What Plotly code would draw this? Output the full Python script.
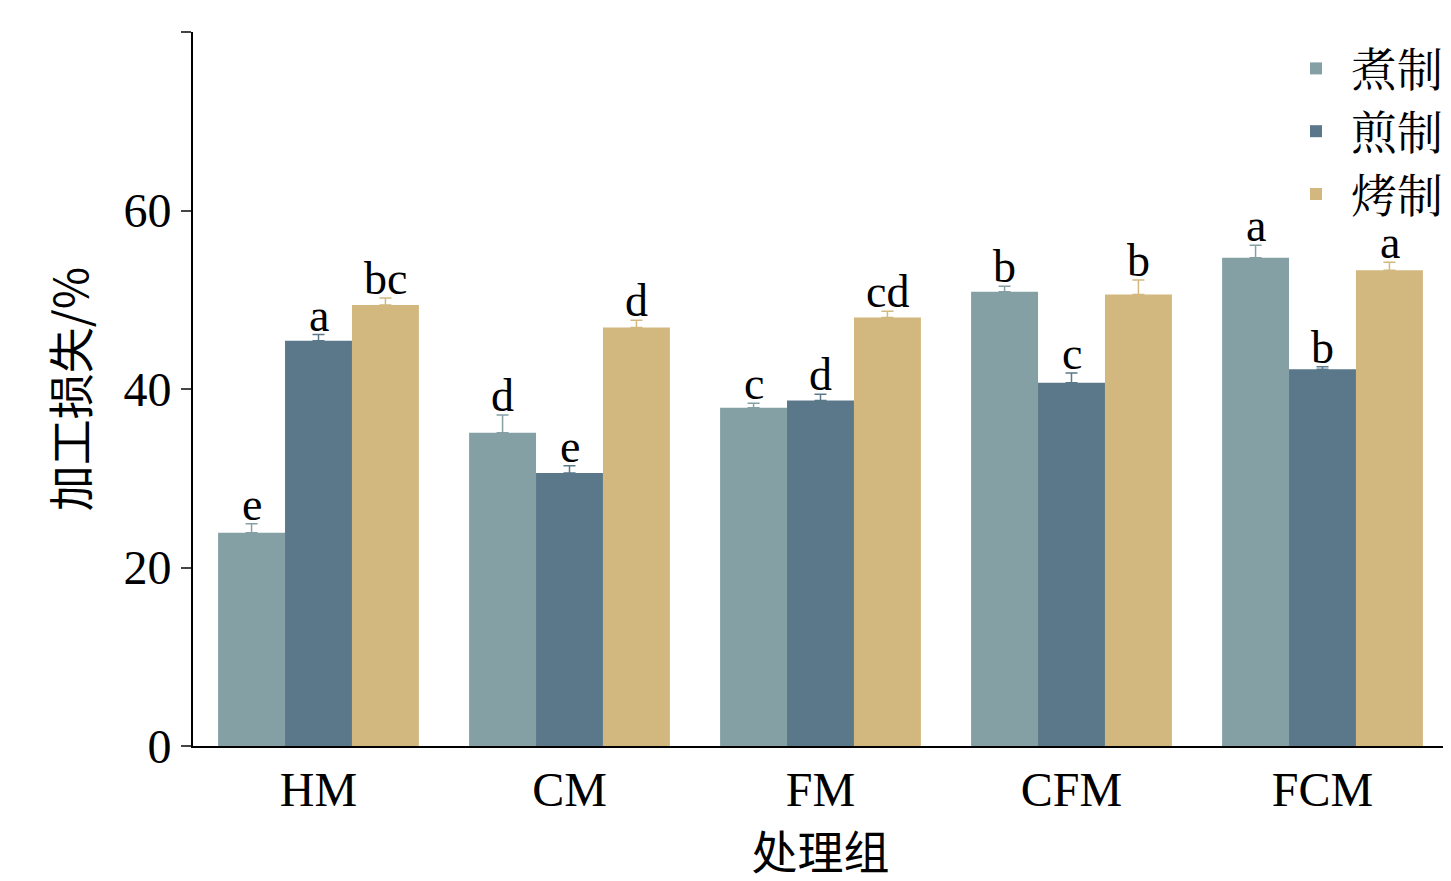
import plotly.graph_objects as go

groups = ["HM", "CM", "FM", "CFM", "FCM"]
names = ["煮制", "煎制", "烤制"]
colors = ["#84a0a5", "#5a7889", "#d2b87f"]

boil = [23.9, 35.1, 37.9, 50.9, 54.7]
boil_err = [1.0, 2.0, 0.5, 0.6, 1.4]
fry = [45.4, 30.6, 38.7, 40.7, 42.2]
fry_err = [0.7, 0.8, 0.7, 1.1, 0.3]
roast = [49.4, 46.9, 48.0, 50.6, 53.3]
roast_err = [0.8, 0.8, 0.7, 1.6, 0.9]

boil_lbl = ["e", "d", "c", "b", "a"]
fry_lbl = ["a", "e", "d", "c", "b"]
roast_lbl = ["bc", "d", "cd", "b", "a"]

serif = "Liberation Serif, Noto Serif CJK SC, Noto Sans CJK SC"

fig = go.Figure()
series = [(boil, boil_err, boil_lbl), (fry, fry_err, fry_lbl), (roast, roast_err, roast_lbl)]
for i, (vals, errs, lbls) in enumerate(series):
    fig.add_trace(go.Bar(
        x=groups, y=vals, name=names[i], marker_color=colors[i], marker_line_width=0,
        error_y=dict(type="data", array=errs, arrayminus=[0] * len(errs), symmetric=False,
                     color=colors[i], thickness=1.5, width=6),
    ))
    for g, v, e, t in zip(groups, vals, errs, lbls):
        fig.add_annotation(x=g, y=v + e, text=t, showarrow=False, yanchor="bottom",
                           xshift=(i - 1) * 67, yshift=-8,
                           font=dict(size=46, family=serif, color="black"))

fig.update_layout(
    width=1451, height=881, barmode="group", bargap=0.2, bargroupgap=0,
    plot_bgcolor="white", paper_bgcolor="white",
    margin=dict(l=185, r=11, t=24, b=143),
    font=dict(family=serif, size=48, color="black"),
    legend=dict(x=1.0, y=1.0, xanchor="right", yanchor="top", font=dict(size=46),
                itemsizing="constant", itemwidth=60, tracegroupgap=0,
                bgcolor="rgba(0,0,0,0)"),
    xaxis=dict(title=dict(text="处理组", font=dict(size=46, family="Noto Sans CJK SC"),
                          standoff=10),
               automargin=False, showline=True, linecolor="black", linewidth=2, ticks=""),
    yaxis=dict(title=dict(text="加工损失/%", font=dict(size=46, family="Noto Sans CJK SC"),
                          standoff=20),
               automargin=False, range=[0, 80], dtick=20, showline=True, linecolor="black",
               linewidth=2, ticks="outside", ticklen=10, tickwidth=2, showgrid=False,
               zeroline=False),
)

fig.write_html("out.html")
